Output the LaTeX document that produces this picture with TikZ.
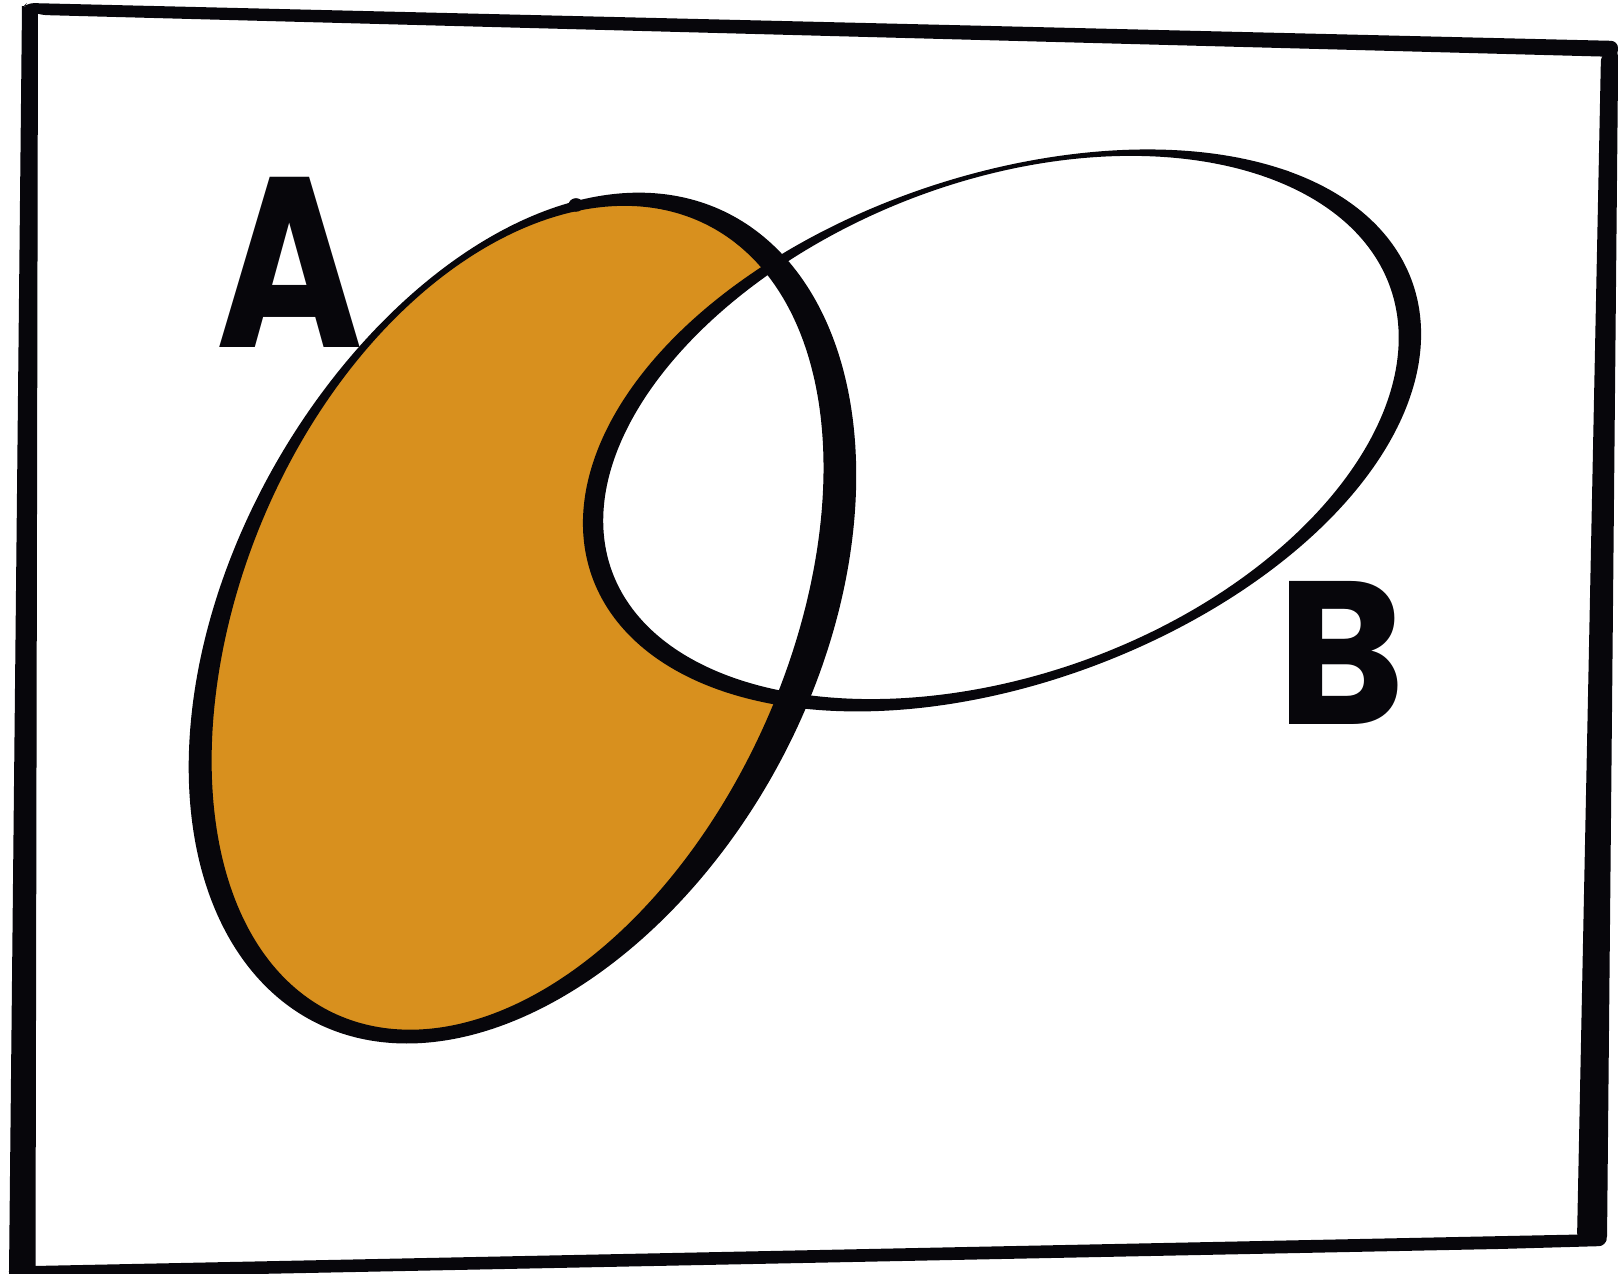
\documentclass[tikz,border=0pt]{standalone}
\usepackage{fontspec}
\newfontfamily\labfont{Poppins}
\definecolor{fillA}{HTML}{D8901E}
\definecolor{ink}{HTML}{07060B}
\tikzset{declare function={
  wA(\x)=0.1991+0.0054*cos(\x)-0.0757*sin(\x)-0.0191*cos(2*\x)-0.0828*sin(2*\x)+0.0104*cos(3*\x)+0.0098*sin(3*\x);
  wB(\x)=0.1423-0.0043*cos(\x)-0.0162*sin(\x)+0.0731*cos(2*\x)-0.0154*sin(2*\x)+0.0142*cos(3*\x);
}}
% ring between outer and inner offset of a rotated ellipse
\newcommand\myring[6]{%
  plot[domain=0:360,samples=361,variable=\t]
   ({#1+(#3+#6(\t)/2)*cos(\t)*cos(#5)-(#4+#6(\t)/2)*sin(\t)*sin(#5)},
    {#2+(#3+#6(\t)/2)*cos(\t)*sin(#5)+(#4+#6(\t)/2)*sin(\t)*cos(#5)}) -- cycle
  plot[domain=0:360,samples=361,variable=\t]
   ({#1+(#3-#6(\t)/2)*cos(\t)*cos(#5)-(#4-#6(\t)/2)*sin(\t)*sin(#5)},
    {#2+(#3-#6(\t)/2)*cos(\t)*sin(#5)+(#4-#6(\t)/2)*sin(\t)*cos(#5)}) -- cycle}
\begin{document}
\begin{tikzpicture}[x=1cm,y=1cm,
  labstyle/.style={inner sep=0pt,text=ink}]
\useasboundingbox (0,0) rectangle (16.18,12.74);
\fill[white] (0,0) rectangle (16.18,12.74);
% frame
\fill[ink] (0.22,12.68) -- (0.38,12.66) -- (0.355,0) -- (0.09,0) -- cycle;
\fill[ink, rounded corners=2pt] (0.22,12.66) -- (0.27,12.71) -- (16.18,12.33) -- (16.18,12.17) -- (0.40,12.59) -- cycle;
\fill[ink, rounded corners=2pt] (16.01,12.20) -- (16.18,12.25) -- (16.18,12.0) -- (16.07,0.31) -- (15.77,0.34) -- cycle;
\fill[ink, rounded corners=2pt] (16.07,0.40) -- (16.06,0.28) -- (15.0,0.25) -- (0.09,-0.05) -- (0.09,0.10) -- (0.35,0.08) -- cycle;
% A minus B
\begin{scope}
  \clip[rotate around={64:(5.20,6.56)}] (5.20,6.56) ellipse [x radius=4.45, y radius=2.82];
  \fill[fillA] (0,0) rectangle (16.18,12.74);
  \fill[white, rotate around={20:(10.015,8.45)}] (10.015,8.45) ellipse [x radius=4.25, y radius=2.50];
\end{scope}
% outlines
\fill[ink, even odd rule] \myring{5.20}{6.56}{4.45}{2.82}{64}{wA};
\fill[ink, even odd rule] \myring{10.015}{8.45}{4.25}{2.50}{20}{wB};
% pen blobs
\fill[ink] (5.76,10.69) ellipse [x radius=0.075, y radius=0.068];
\fill[ink] (12.85,10.97) ellipse [x radius=0.07, y radius=0.065];
% labels
\node[labstyle, xscale=0.82, font=\labfont\bfseries\fontsize{69}{69}\selectfont] (labA) at (2.90,10.12) {A};
\node[labstyle, xscale=0.95, font=\labfont\bfseries\fontsize{58}{58}\selectfont] (labB) at (13.41,6.21) {B};
\end{tikzpicture}
\end{document}
